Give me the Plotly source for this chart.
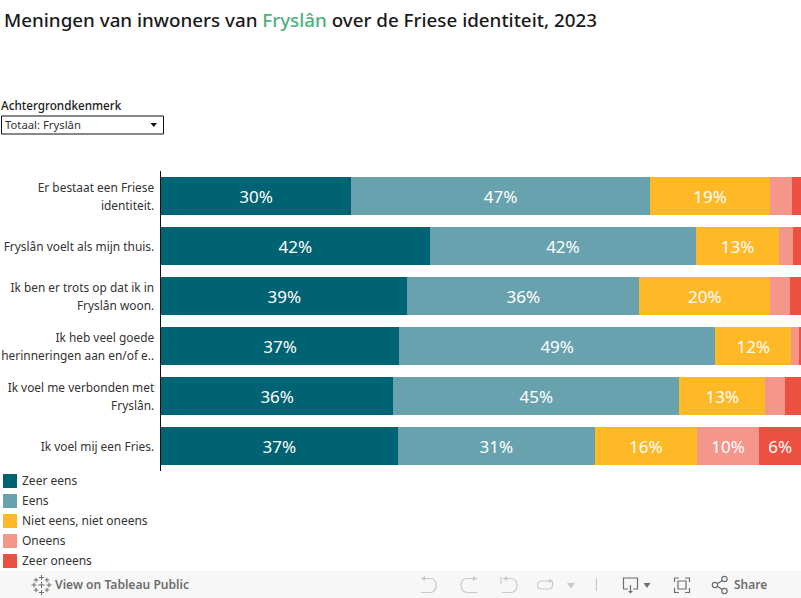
import plotly.graph_objects as go

W, H = 801, 598
L, R, T, B = 161, 801, 171, 471

categories = [
    "Er bestaat een Friese<br>identiteit.",
    "Fryslân voelt als mijn thuis.",
    "Ik ben er trots op dat ik in<br>Fryslân woon.",
    "Ik heb veel goede<br>herinneringen aan en/of e..",
    "Ik voel me verbonden met<br>Fryslân.",
    "Ik voel mij een Fries.",
]
zeer_eens = [29.7, 42.0, 38.51, 37.2, 36.3, 37.0]
eens = [46.7, 41.6, 36.2, 49.4, 44.7, 30.8]
neutraal = [18.8, 13.0, 20.49, 11.9, 13.4, 15.9]
oneens = [3.4, 2.2, 3.1, 1.2, 3.1, 9.8]
zeer_oneens = [1.4, 1.2, 1.7, 0.3, 2.5, 6.5]

series_names = ["Zeer eens", "Eens", "Niet eens, niet oneens", "Oneens", "Zeer oneens"]
series_values = [zeer_eens, eens, neutraal, oneens, zeer_oneens]
series_colors = ["#006374", "#68a2ae", "#ffb826", "#f4968a", "#ec5040"]

FONT = "Noto Sans"
TXT = "#333333"
GREY = "#6e6e6e"
LIGHT = "#c9c9c9"


def px(x):
    return (x - L) / (R - L)


def py(y):
    return (B - y) / (B - T)


def label(v):
    return f"{round(v)}%" if v >= 5 else ""


def tick(s):
    # the outer tick font sets the line pitch; the span sets the glyph size
    return "<br>".join(f'<span style="font-size:11.9px">{p}</span>' for p in s.split("<br>"))


fig = go.Figure()
for name, vals, color in zip(series_names, series_values, series_colors):
    fig.add_bar(
        y=categories, x=vals, name=name, orientation="h",
        marker=dict(color=color, line=dict(width=0)),
        text=[label(v) for v in vals],
        textposition="inside", insidetextanchor="middle", textangle=0,
        constraintext="none", cliponaxis=False,
        textfont=dict(family=FONT, size=17, color="white"),
        showlegend=False,
    )

shapes = []
annotations = []


def text(x, y, s, size=12, color=TXT, anchor="left", weight=None):
    f = dict(family=FONT, size=size, color=color)
    if weight:
        f["weight"] = weight
    annotations.append(dict(
        x=px(x), y=py(y), xref="paper", yref="paper", text=s, showarrow=False,
        xanchor=anchor, yanchor="middle", xshift=0, font=f,
        borderpad=0, borderwidth=0,
    ))


def rect(x0, y0, x1, y1, fill="rgba(0,0,0,0)", line=None, lw=1):
    shapes.append(dict(
        type="rect", xref="paper", yref="paper",
        x0=px(x0), x1=px(x1), y0=py(y0), y1=py(y1), fillcolor=fill,
        line=dict(color=line or "rgba(0,0,0,0)", width=lw if line else 0),
    ))


def path(points, color=None, fill=None, lw=1.2):
    """points: list of command strings with pixel pairs -> converted to paper."""
    out = []
    for cmd in points:
        if isinstance(cmd, str):
            out.append(cmd)
        else:
            out.append(f"{px(cmd[0]):.5f},{py(cmd[1]):.5f}")
    d = " ".join(out).replace("M ", "M").replace("L ", "L").replace("Q ", "Q")
    shapes.append(dict(
        type="path", xref="paper", yref="paper", path=d,
        fillcolor=fill or "rgba(0,0,0,0)",
        line=dict(color=color or "rgba(0,0,0,0)", width=lw if color else 0),
    ))


# Title and filter
text(4, 19.5, 'Meningen van inwoners van <span style="color:#4fb07c">Fryslân</span> over de Friese identiteit, 2023',
     size=18.8, color="#1a1a1a", weight=500)
text(0.5, 105, "Achtergrondkenmerk", size=11.7, color="#1a1a1a", weight=500)
rect(1.5, 116, 163.5, 134, fill="white", line="#111111", lw=1)
text(5, 124.5, "Totaal: Fryslân", size=11.3, color=TXT)
path(["M ", (150.5, 123), "L ", (157, 123), "L ", (153.75, 127), "Z"], fill="#111111")

# Legend
for i, (name, color) in enumerate(zip(series_names, series_colors)):
    y = 481 + 20 * i
    rect(3, y - 7, 17, y + 7, fill=color)
    text(22, y - 1, name, size=12, color=TXT)

# Tableau footer
rect(0, 571, 801, 598, fill="#f7f7f7")
text(55, 584, "View on Tableau Public", size=12.1, color=GREY, weight=600)
text(734, 584, "Share", size=12, color=GREY, weight=600)

for cx, cy, r in [(36, 580, 2.2), (47, 580, 2.2), (36, 590, 2.2), (47, 590, 2.2),
                  (34, 585, 2.5), (49, 585, 2.5), (41.5, 577.5, 2.5), (41.5, 592.5, 2.5), (41.5, 585, 3.2)]:
    path(["M ", (cx - r, cy), "L ", (cx + r, cy), "M ", (cx, cy - r), "L ", (cx, cy + r)], color=GREY, lw=1)

# Undo
path(["M ", (421, 578.5), "L ", (430, 578.5), "Q ", (436, 578.5), (436, 585), "Q ", (436, 592.5), (430, 592.5), "L ", (421, 592.5)], color=LIGHT)
path(["M ", (421, 578.5), "L ", (425, 576), "L ", (425, 581), "Z"], fill=LIGHT)
# Redo
path(["M ", (477, 578.5), "L ", (468, 578.5), "Q ", (461, 578.5), (461, 585), "Q ", (461, 592.5), (468, 592.5), "L ", (477, 592.5)], color=LIGHT)
path(["M ", (477, 578.5), "L ", (473, 576), "L ", (473, 581), "Z"], fill=LIGHT)
# Revert
path(["M ", (503, 578.5), "L ", (510, 578.5), "Q ", (517, 578.5), (517, 585), "Q ", (517, 592.5), (510, 592.5), "L ", (502, 592.5)], color=LIGHT)
path(["M ", (501, 577), "L ", (501, 584)], color=LIGHT)
path(["M ", (503, 578.5), "L ", (507, 576), "L ", (507, 581), "Z"], fill=LIGHT)
# Refresh
path(["M ", (552, 581), "L ", (542, 581), "Q ", (537.5, 581), (537.5, 585), "Q ", (537.5, 589), (542, 589), "L ", (548, 589), "Q ", (552.5, 589), (552.5, 585), "L ", (552.5, 581)], color=LIGHT)
path(["M ", (553, 581), "L ", (549, 579), "L ", (549, 583), "Z"], fill=LIGHT)
path(["M ", (567, 583), "L ", (575, 583), "L ", (571, 588.5), "Z"], fill=LIGHT)
path(["M ", (596.5, 578), "L ", (596.5, 591)], color=LIGHT)
# Download
path(["M ", (628, 589), "L ", (623.5, 589), "L ", (623.5, 578), "L ", (637.5, 578), "L ", (637.5, 589), "L ", (633, 589)], color=GREY)
path(["M ", (630.5, 585), "L ", (630.5, 591)], color=GREY)
path(["M ", (628, 591), "L ", (633, 591), "L ", (630.5, 593.5), "Z"], fill=GREY)
path(["M ", (643.5, 583), "L ", (650.5, 583), "L ", (647, 588), "Z"], fill=GREY)
# Full screen
for a, b, c, d, e, f in [(674.5, 582, 674.5, 578, 679, 578), (685, 578, 689.5, 578, 689.5, 582),
                         (674.5, 588, 674.5, 592.5, 679, 592.5), (685, 592.5, 689.5, 592.5, 689.5, 588)]:
    path(["M ", (a, b), "L ", (c, d), "L ", (e, f)], color=GREY)
rect(678, 581, 686, 589, line=GREY, lw=1.2)
# Share
path(["M ", (717, 584), "L ", (723, 580), "M ", (717, 586), "L ", (723, 590)], color=GREY)
for cx, cy, r in [(715, 585, 2.7), (724.5, 579, 2.7), (724.5, 591, 2.7)]:
    shapes.append(dict(type="circle", xref="paper", yref="paper",
                       x0=px(cx - r), x1=px(cx + r), y0=py(cy - r), y1=py(cy + r),
                       line=dict(color=GREY, width=1.2), fillcolor="#f7f7f7"))

fig.update_layout(
    width=W, height=H, autosize=False,
    margin=dict(l=L, r=W - R, t=T, b=H - B, pad=0),
    barmode="stack", bargap=0.24,
    paper_bgcolor="white", plot_bgcolor="white",
    font=dict(family=FONT, size=12, color=TXT),
    shapes=shapes, annotations=annotations, showlegend=False,
    xaxis=dict(range=[0, 100], visible=False, fixedrange=True),
    yaxis=dict(
        type="category", categoryorder="array", categoryarray=categories,
        tickmode="array", tickvals=categories, ticktext=[tick(c) for c in categories],
        autorange="reversed", showline=True, linecolor="#111111", linewidth=1,
        showgrid=False, zeroline=False, ticks="", fixedrange=True,
        tickfont=dict(family=FONT, size=13.85, color=TXT), ticklabelstandoff=3,
    ),
)

fig.write_html(
    "out.html",
    config={"displayModeBar": False, "responsive": False},
    post_script="document.body.style.margin='0';document.body.style.overflow='hidden';",
)
